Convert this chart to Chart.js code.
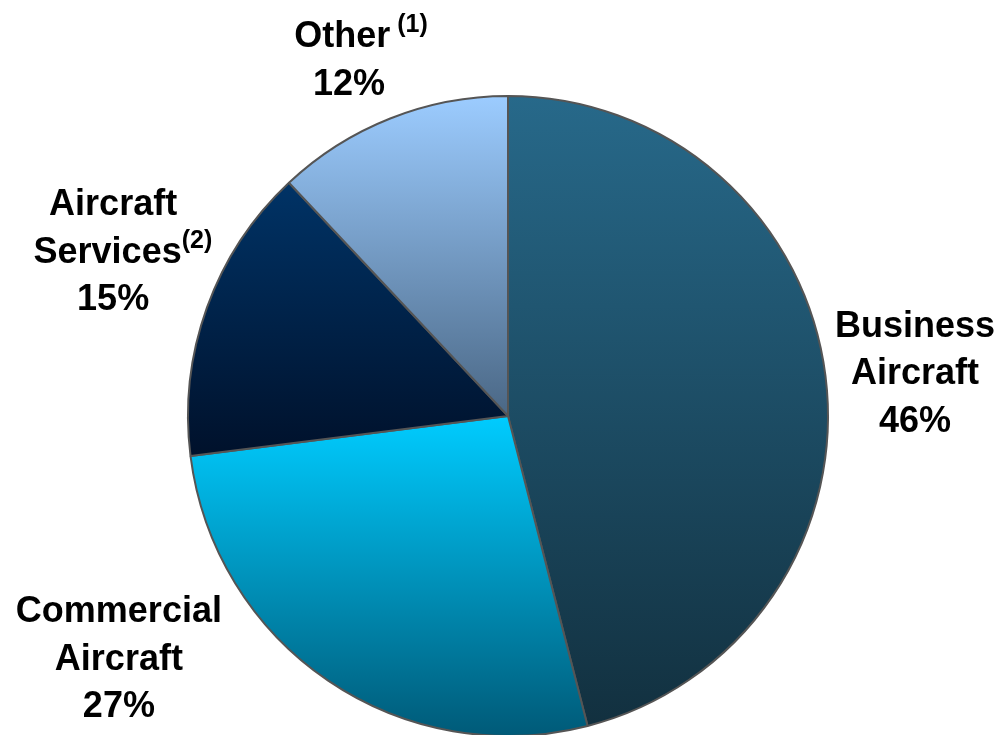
<!DOCTYPE html>
<html>
<head>
<meta charset="utf-8">
<script src="https://cdn.jsdelivr.net/npm/chart.js@4.4.1/dist/chart.umd.min.js"></script>
<style>
  html, body { margin: 0; padding: 0; background: #ffffff; overflow: hidden; }
  #wrap { width: 1001px; height: 742px; position: relative; }
</style>
</head>
<body>
<div id="wrap"><canvas id="c"></canvas></div>
<script>
// ---- data ----
const categories = ['Business Aircraft', 'Commercial Aircraft', 'Aircraft Services', 'Other'];
const shares = [46, 27, 15, 12];
const labelMain = [['Business', 'Aircraft'], ['Commercial', 'Aircraft'], ['Aircraft', 'Services'], ['Other']];
const labelSup = [['', ''], ['', ''], ['', '(2)'], [' (1)']];
const gradientTop = ['#27698A', '#00CCFF', '#003366', '#9CCCFF'];
const gradientBottom = ['#12303F', '#005A78', '#00112B', '#4A6785'];

// ---- layout (label anchors relative to pie centre, in radius units) ----
const labelAnchor = [[1.272, -0.247], [-1.216, 0.644], [-1.234, -0.628], [-0.497, -1.153]];
const LINE_H = 47.5;
const MAIN_FONT = 'bold 36px "Liberation Sans", Arial, sans-serif';
const SUP_FONT = 'bold 25px "Liberation Sans", Arial, sans-serif';

function pieGeom(chart) {
  const a = chart.chartArea;
  const meta = chart.getDatasetMeta(0);
  const el = meta.data && meta.data[0];
  const cx = (a.left + a.right) / 2, cy = (a.top + a.bottom) / 2;
  const r = el && el.outerRadius ? el.outerRadius : (Math.min(a.width, a.height) - 2) / 2;
  return { cx, cy, r };
}

function sliceGradient(context) {
  const chart = context.chart;
  const i = context.dataIndex;
  if (!chart.chartArea || i === undefined) return gradientTop[i || 0];
  const a = chart.chartArea;
  const cx = (a.left + a.right) / 2, cy = (a.top + a.bottom) / 2;
  const r = (Math.min(a.width, a.height) - 2) / 2;
  const total = shares.reduce((s, v) => s + v, 0);
  let before = 0;
  for (let k = 0; k < i; k++) before += shares[k];
  const t0 = before / total * 360, t1 = (before + shares[i]) / total * 360;
  const ys = [cy];
  const yAt = t => cy - r * Math.cos(t * Math.PI / 180);
  ys.push(yAt(t0), yAt(t1));
  if (t0 <= 0 && t1 >= 0) ys.push(cy - r);
  if (t0 <= 180 && t1 >= 180) ys.push(cy + r);
  if (t0 <= 360 && t1 >= 360) ys.push(cy - r);
  const yMin = Math.min(...ys), yMax = Math.max(...ys);
  const g = chart.ctx.createLinearGradient(0, yMin, 0, yMax);
  g.addColorStop(0, gradientTop[i]);
  g.addColorStop(1, gradientBottom[i]);
  return g;
}

const labelPlugin = {
  id: 'sliceLabels',
  afterDatasetsDraw(chart) {
    const { ctx } = chart;
    const { cx, cy, r } = pieGeom(chart);
    ctx.save();
    ctx.fillStyle = '#000000';
    ctx.textBaseline = 'alphabetic';
    for (let i = 0; i < categories.length; i++) {
      const ax = cx + labelAnchor[i][0] * r;
      const ay = cy + labelAnchor[i][1] * r;
      const lines = labelMain[i].map((t, k) => ({ main: t, sup: labelSup[i][k] || '' }));
      lines.push({ main: shares[i] + '%', sup: '' });
      lines.forEach((ln, k) => {
        const y = ay + k * LINE_H;
        ctx.font = SUP_FONT;
        const supW = ln.sup ? ctx.measureText(ln.sup).width : 0;
        ctx.font = MAIN_FONT;
        const mainW = ctx.measureText(ln.main).width;
        const x0 = ax - mainW / 2 - supW * 0.18;
        ctx.textAlign = 'left';
        ctx.fillText(ln.main, x0, y);
        if (ln.sup) {
          ctx.font = SUP_FONT;
          ctx.fillText(ln.sup, x0 + mainW, y - 15);
        }
      });
    }
    ctx.restore();
  }
};

new Chart(document.getElementById('c'), {
  type: 'pie',
  data: {
    labels: categories,
    datasets: [{
      data: shares,
      backgroundColor: sliceGradient,
      borderColor: '#555555',
      borderWidth: 2,
      hoverOffset: 0
    }]
  },
  options: {
    responsive: true,
    maintainAspectRatio: false,
    animation: false,
    events: [],
    layout: { padding: { left: 187, right: 172, top: 95, bottom: 5 } },
    plugins: { legend: { display: false }, tooltip: { enabled: false } }
  },
  plugins: [labelPlugin]
});
</script>
</body>
</html>
